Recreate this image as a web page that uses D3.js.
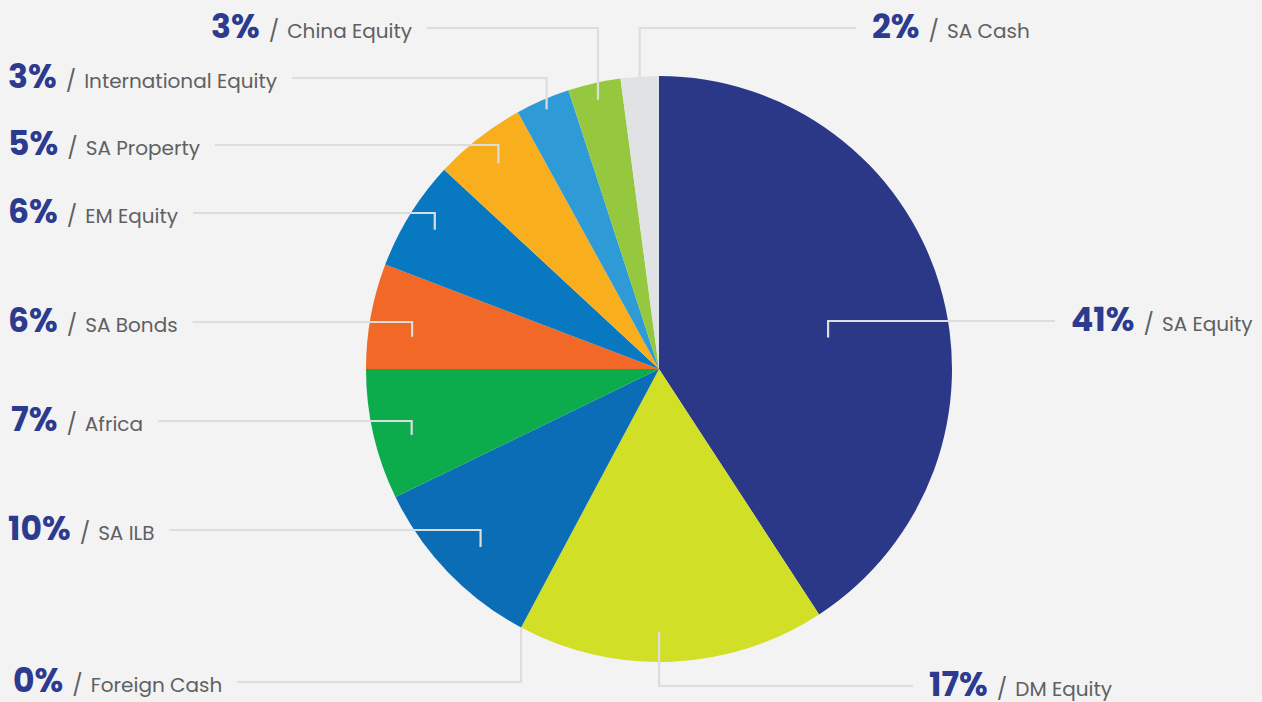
<!DOCTYPE html>
<html><head><meta charset="utf-8">
<script src="https://cdn.jsdelivr.net/npm/d3@7"></script>
<style>
html,body{margin:0;padding:0;background:#f2f3f2;}
svg{display:block;}
</style></head>
<body>
<script>
// Data
const categories = ["SA Equity","DM Equity","Foreign Cash","SA ILB","Africa","SA Bonds","EM Equity","SA Property","International Equity","China Equity","SA Cash"];
const values = [40.8, 17.0, 0.0, 10.0, 7.2, 5.8, 6.1, 5.1, 3.0, 2.9, 2.1];
const percentLabels = ["41%","17%","0%","10%","7%","6%","6%","5%","3%","3%","2%"];
const colors = ["#2b3887","#d1df27","#9aa0a6","#0b6db6","#0cab4c","#f26826","#0879c1","#f9ae1e","#2e9bd7","#95c83e","#e1e2e3"];

// Layout for labels / leaders
const labelSide = ["right","right","left","left","left","left","left","left","left","left","right"];
const labelX    = [1071, 929, 13, 8, 11, 8, 8, 8, 8, 211, 872];
const labelLineY= [321, 686, 682, 530, 421, 322, 213, 145, 78, 28, 28];
const leaderR   = [172, 263, 293, 252, 256, 249, 264, 261, 283, 276, 293];
const angleNudge= [6, 2.5, 0, -1, -2, -3, 0, 0, 0, 0, 0];

const W = 1262, H = 702;
const cx = 659, cy = 369, R = 293;

const svg = d3.select("body").append("svg").attr("width", W).attr("height", H);
svg.append("rect").attr("width", W).attr("height", H).attr("fill", "#f2f3f2");

const pie = d3.pie().sort(null).value(d => d);
const arcs = pie(values);
const arc = d3.arc().innerRadius(0).outerRadius(R);

const g = svg.append("g").attr("transform", `translate(${cx},${cy})`);
g.selectAll("path").data(arcs).join("path")
  .attr("d", arc)
  .attr("fill", (d, i) => colors[i]);

const font = "Poppins, Inter, 'Open Sans', sans-serif";
const labels = svg.append("g");
const lines = svg.append("g");

arcs.forEach((d, i) => {
  const t = labels.append("text")
    .attr("x", labelX[i])
    .attr("y", labelLineY[i] + 10)
    .attr("font-family", font);
  t.append("tspan").text(percentLabels[i])
    .attr("font-size", 33).attr("font-weight", 700).attr("fill", "#2c3a8f");
  t.append("tspan").text("/").attr("dx", 9)
    .attr("font-size", 22).attr("fill", "#5f6063");
  t.append("tspan").text(categories[i]).attr("dx", 8)
    .attr("font-size", 20).attr("fill", "#5f6063");
  const bb = t.node().getBBox();

  const a = (d.startAngle + d.endAngle) / 2 + angleNudge[i] * Math.PI / 180;
  const sx = cx + leaderR[i] * Math.sin(a);
  const sy = cy - leaderR[i] * Math.cos(a);
  const ly = labelLineY[i];
  const ex = labelSide[i] === "left" ? bb.x + bb.width + 15 : labelX[i] - 16;
  lines.append("path")
    .attr("d", d3.line()([[sx, sy], [sx, ly], [ex, ly]]))
    .attr("fill", "none")
    .attr("stroke", "#dcdddd")
    .attr("stroke-width", 2.2);
});
</script>
</body></html>
